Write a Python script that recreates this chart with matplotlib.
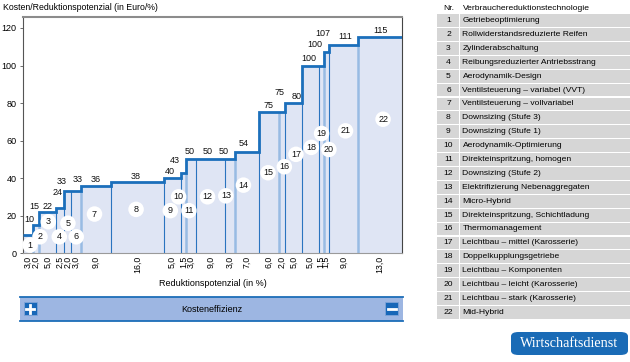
import numpy as np
import matplotlib.pyplot as plt
from matplotlib.patches import Rectangle, FancyBboxPatch

plt.rcParams['font.family'] = ['Liberation Sans', 'DejaVu Sans']

# Reduktionspotenzial (in %) = Breite jeder Stufe
widths = [3.0, 2.0, 5.0, 2.5, 2.0, 3.0, 9.0, 16.0, 5.0, 1.5, 3.0,
          9.0, 3.0, 7.0, 6.0, 2.0, 5.0, 5.0, 1.5, 1.5, 9.0, 13.0]
# Kosten/Reduktionspotenzial (in Euro/%) = Hoehe jeder Stufe
costs = [10, 15, 22, 24, 33, 33, 36, 38, 40, 43, 50,
         50, 50, 54, 75, 75, 80, 100, 100, 107, 111, 115]
technologies = [
    'Getriebeoptimierung', 'Rollwiderstandsreduzierte Reifen', 'Zylinderabschaltung',
    'Reibungsreduzierter Antriebsstrang', 'Aerodynamik-Design',
    'Ventilsteuerung \u2013 variabel (VVT)', 'Ventilsteuerung \u2013 vollvariabel',
    'Downsizing (Stufe 3)', 'Downsizing (Stufe 1)', 'Aerodynamik-Optimierung',
    'Direkteinspritzung, homogen', 'Downsizing (Stufe 2)',
    'Elektrifizierung Nebenaggregaten', 'Micro-Hybrid',
    'Direkteinspritzung, Schichtladung', 'Thermomanagement',
    'Leichtbau \u2013 mittel (Karosserie)', 'Doppelkupplungsgetriebe',
    'Leichtbau \u2013 Komponenten', 'Leichtbau \u2013 leicht (Karosserie)',
    'Leichtbau \u2013 stark (Karosserie)', 'Mid-Hybrid']

# where the value labels and numbered circles sit (data coords)
value_xy = [(2.0, 18), (3.4, 25), (7.4, 25), (10.6, 32.2), (11.8, 38.1), (16.6, 39.4),
            (22.1, 39.5), (34.1, 41.1), (44.4, 43.4), (45.8, 49.6), (50.2, 54),
            (55.7, 54), (60.4, 54), (66.4, 58.5), (74.0, 78.9), (77.3, 85.4),
            (82.3, 83.7), (86.2, 104), (87.9, 111.2), (90.3, 117.3), (96.9, 115.2),
            (107.7, 118.8)]
circle_xy = [(2.2, 4.4), (5.2, 8.8), (7.7, 16.8), (11.0, 8.8), (13.6, 16.0), (16.1, 8.8),
             (21.6, 20.9), (34.1, 23.4), (44.4, 22.7), (46.9, 30.1), (50.0, 22.7),
             (55.6, 30.1), (61.1, 30.6), (66.4, 36.3), (73.8, 42.9), (78.7, 46.1),
             (82.2, 52.7), (86.8, 56.4), (89.9, 63.8), (92.1, 55.3), (97.1, 65.2),
             (108.4, 71.4)]
# separator style per inner boundary: True = light wide line
light_sep = [True, True, False, False, False, True, False, False, False, True, False,
             False, True, False, True, False, False, False, True, False, True]

W, H = 630, 362
fig = plt.figure(figsize=(W / 100, H / 100), dpi=100)


def fx(x):
    return x / W


def fy(y):
    return 1 - y / H


ax = fig.add_axes([fx(22.7), fy(253.3), fx(401.7) - fx(22.7), fy(16.7) - fy(253.3)])

edges = np.concatenate([[0], np.cumsum(widths)])
centers = edges[:-1] + np.array(widths) / 2

ax.stairs(costs, edges, fill=True, color='#dfe5f4', zorder=1)
for i, e in enumerate(edges[1:-1]):
    if light_sep[i]:
        ax.vlines(e, 0, costs[i], color='#98bbe3', lw=1.8, zorder=2)
    else:
        ax.vlines(e, 0, costs[i], color='#2a74bf', lw=0.8, zorder=2)
ax.stairs(costs, edges, baseline=None, color='#1b6fbb', lw=2, zorder=3)

for c, (x, y) in zip(costs, value_xy):
    ax.text(x, y, str(c), ha='center', va='center', fontsize=6.5, color='#111111', zorder=5)

cx = [p[0] for p in circle_xy]
cy = [p[1] for p in circle_xy]
ax.scatter(cx, cy, s=125, color='white', edgecolors='none', zorder=4, clip_on=False)
for n, (x, y) in enumerate(circle_xy, start=1):
    ax.text(x, y, str(n), ha='center', va='center', fontsize=6.5, color='#111111', zorder=5)

ax.set_xlim(0, edges[-1])
ax.set_ylim(0, 126)
ax.set_yticks(range(0, 121, 20))
ax.set_xticks(centers)
ax.set_xticklabels([f'{w:.1f}'.replace('.', ',') for w in widths], rotation=90,
                   fontsize=6.3)
ax.tick_params(axis='x', length=0, pad=2)
ax.tick_params(axis='y', length=2.5, width=0.6, pad=2, labelsize=6.5, color='#555555')
ax.spines['left'].set_color('#555555')
ax.spines['left'].set_linewidth(0.8)
ax.spines['top'].set_color('#8c8c8c')
ax.spines['top'].set_linewidth(1.5)
ax.spines['right'].set_color('#444444')
ax.spines['right'].set_linewidth(0.8)
ax.spines['bottom'].set_color('#9a9a9a')
ax.spines['bottom'].set_linewidth(0.8)

fig.text(fx(3), fy(7), 'Kosten/Reduktionspotenzial (in Euro/%)', fontsize=6.3,
         va='center', ha='left')
fig.text(fx(212.7), fy(283.3), 'Reduktionspotenzial (in %)', fontsize=6.5,
         va='center', ha='center')

# Kosteneffizienz bar below the chart
bar = Rectangle((fx(20), fy(320.7)), fx(402.7) - fx(20), fy(296.7) - fy(320.7),
                transform=fig.transFigure, facecolor='#9db6e2', edgecolor='none')
fig.patches.append(bar)
for yy in (296.7, 320.7):
    fig.add_artist(plt.Line2D([fx(20), fx(402.7)], [fy(yy), fy(yy)], color='#1c6db8',
                              lw=1.3, transform=fig.transFigure))
fig.text(fx(211.7), fy(309), 'Kosteneffizienz', fontsize=6.5, ha='center', va='center')
for x0, sign in ((23.5, '+'), (385, '-')):
    fig.patches.append(Rectangle((fx(x0), fy(315)), fx(13), fy(302) - fy(315),
                                 transform=fig.transFigure, facecolor='#1767b8',
                                 edgecolor='#7fa4d8', lw=0.6))
    xm, ym = x0 + 6.5, 308.5
    fig.add_artist(plt.Line2D([fx(xm - 4), fx(xm + 4)], [fy(ym), fy(ym)], color='white',
                              lw=2, transform=fig.transFigure))
    if sign == '+':
        fig.add_artist(plt.Line2D([fx(xm), fx(xm)], [fy(ym - 4), fy(ym + 4)], color='white',
                                  lw=2, transform=fig.transFigure))

# table of technologies
fig.text(fx(443), fy(8), 'Nr.', fontsize=6.1, ha='left', va='center')
fig.text(fx(462.5), fy(8), 'Verbrauchereduktionstechnologie', fontsize=6.1, ha='left',
         va='center')
for i, name in enumerate(technologies):
    yc = 20.5 + i * 13.9
    fig.patches.append(Rectangle((fx(437), fy(yc + 6.4)), fx(22), fy(yc - 6.4) - fy(yc + 6.4),
                                 transform=fig.transFigure, facecolor='#d6d6d6',
                                 edgecolor='none'))
    fig.patches.append(Rectangle((fx(460), fy(yc + 6.4)), fx(170), fy(yc - 6.4) - fy(yc + 6.4),
                                 transform=fig.transFigure, facecolor='#d6d6d6',
                                 edgecolor='none'))
    fig.text(fx(448.5), fy(yc), str(i + 1), fontsize=6.1, ha='center', va='center')
    fig.text(fx(462.5), fy(yc), name, fontsize=6.1, ha='left', va='center')

# logo
logo = FancyBboxPatch((fx(511), fy(355)), fx(117), fy(332) - fy(355),
                      boxstyle='round,pad=0,rounding_size=0.012',
                      transform=fig.transFigure, facecolor='#1a6bb6', edgecolor='none')
fig.patches.append(logo)
fig.text(fx(569.5), fy(343.5), 'Wirtschaftsdienst', fontsize=10.2, color='white',
         family=['Liberation Serif', 'DejaVu Serif'], ha='center', va='center')

fig.savefig('out.png', dpi=100)
